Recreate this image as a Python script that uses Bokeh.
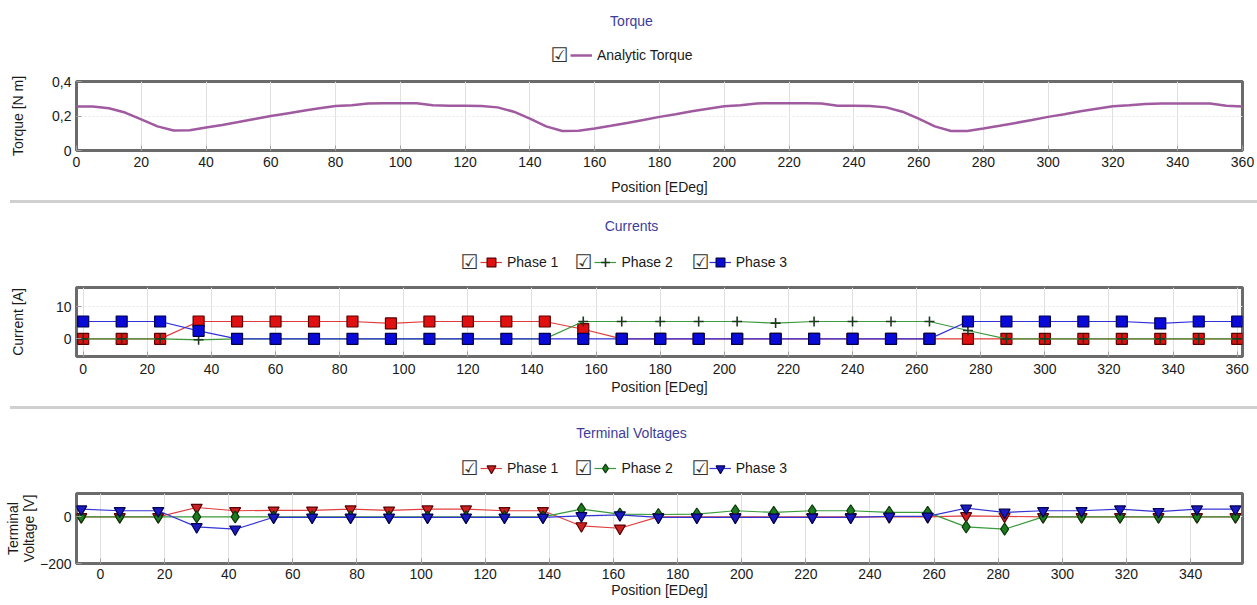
from bokeh.plotting import figure
from bokeh.models import (Range1d, FixedTicker, CustomJSTickFormatter, Legend,
                          LegendItem, Div, Label)
from bokeh.layouts import column
from bokeh.core.properties import value
from bokeh.embed import file_html
from bokeh.resources import INLINE

FONT = "Liberation Sans"
TITLE_COLOR = "#3c3c9c"
TEXT_COLOR = "#1a1a1a"

# ---------------- data ----------------
torque_pos = [0, 5, 10, 15, 20, 25, 30, 35, 40, 45, 50, 55, 60, 65, 70, 75, 80, 85,
              90, 95, 100, 105, 110, 115, 120, 125, 130, 135, 140, 145, 150, 155,
              160, 165, 170, 175, 180, 185, 190, 195, 200, 205, 210, 215, 220, 225,
              230, 235, 240, 245, 250, 255, 260, 265, 270, 275, 280, 285, 290, 295,
              300, 305, 310, 315, 320, 325, 330, 335, 340, 345, 350, 355, 360]
torque_val = [0.255, 0.255, 0.245, 0.22, 0.18, 0.14, 0.116, 0.118, 0.133, 0.148,
              0.165, 0.183, 0.2, 0.215, 0.23, 0.245, 0.258, 0.262, 0.273, 0.274,
              0.274, 0.274, 0.262, 0.26, 0.259, 0.258, 0.25, 0.225, 0.185, 0.14,
              0.113, 0.114, 0.128, 0.143, 0.16, 0.177, 0.195, 0.21, 0.227, 0.242,
              0.256, 0.262, 0.273, 0.274, 0.274, 0.274, 0.273, 0.26, 0.259, 0.258,
              0.25, 0.225, 0.185, 0.14, 0.113, 0.113, 0.127, 0.143, 0.16, 0.177,
              0.195, 0.21, 0.227, 0.242, 0.256, 0.262, 0.27, 0.272, 0.272, 0.272,
              0.272, 0.259, 0.255]

cur_pos = [0, 12, 24, 36, 48, 60, 72, 84, 96, 108, 120, 132, 144, 156, 168, 180,
           192, 204, 216, 228, 240, 252, 264, 276, 288, 300, 312, 324, 336, 348, 360]
cur_phase1 = [0, 0, 0, 5.4, 5.4, 5.4, 5.4, 5.4, 4.8, 5.4, 5.4, 5.4, 5.4, 3.0, 0, 0,
              0, 0, 0, 0, 0, 0, 0, 0, 0, 0, 0, 0, 0, 0, 0]
cur_phase2 = [0, 0, 0, -0.3, 0, 0, 0, 0, 0, 0, 0, 0, 0, 5.4, 5.4, 5.4,
              5.4, 5.4, 4.9, 5.4, 5.4, 5.4, 5.4, 2.6, 0, 0, 0, 0, 0, 0, 0]
cur_phase3 = [5.4, 5.4, 5.4, 2.5, 0, 0, 0, 0, 0, 0, 0, 0, 0, 0, 0, 0,
              0, 0, 0, 0, 0, 0, 0, 5.4, 5.4, 5.4, 5.4, 5.4, 4.8, 5.4, 5.4]

volt_pos = [-6, 6, 18, 30, 42, 54, 66, 78, 90, 102, 114, 126, 138, 150, 162, 174,
            186, 198, 210, 222, 234, 246, 258, 270, 282, 294, 306, 318, 330, 342, 354]
volt_phase1 = [0, 0, 0, 40, 26, 28, 28, 33, 28, 33, 33, 26, 26, -39, -49, 0,
               0, 0, 0, 0, 0, 0, 0, 4, 2, 0, 0, 0, 0, 0, 0]
volt_phase2 = [0, 0, 0, 0, 0, 0, 0, 0, 0, 0, 0, 0, 0, 33, 12, 10,
               12, 26, 19, 26, 26, 19, 19, -43, -53, 0, 0, 0, 0, 0, 0]
volt_phase3 = [33, 26, 26, -43, -53, -2, -2, -2, -2, -2, -2, -2, -2, 4, 8, -2,
               -2, -2, -2, -2, -2, 2, 2, 37, 19, 26, 26, 33, 22, 33, 33]

x_ticks_full = [0, 20, 40, 60, 80, 100, 120, 140, 160, 180, 200, 220, 240, 260,
                280, 300, 320, 340, 360]
x_ticks_volt = [0, 20, 40, 60, 80, 100, 120, 140, 160, 180, 200, 220, 240, 260,
                280, 300, 320, 340]
torque_ticks = [0, 0.2, 0.4]
current_ticks = [0, 10]
voltage_ticks = [-200, 0]

# ---------------- layout constants ----------------
FIG_W = 1257
FRAME_L = 76
FRAME_R = 1242

STYLE = {
    "T": dict(line="#a05aa0"),
    "I1": dict(line="#e03a3a", fill="#e01010", edge="#5a0000", marker="square", size=11),
    "I2": dict(line="#3c9a3c", fill=None, edge="#1e3a1e", marker="cross", size=10),
    "I3": dict(line="#3030d8", fill="#0a0ad8", edge="#00004a", marker="square", size=11),
    "V1": dict(line="#e04040", fill="#cc2020", edge="#5a0000", marker="inverted_triangle", size=11),
    "V2": dict(line="#3a9a3a", fill="#1e7a1e", edge="#0a3a0a", marker="diamond", size=12),
    "V3": dict(line="#3434d4", fill="#1a1ac0", edge="#000050", marker="inverted_triangle", size=11),
}


def series(p, xs, ys, key, **kw):
    st = STYLE[key]
    ln = p.line(xs, ys, line_color=st["line"], line_width=1.2, **kw)
    if st["fill"] is None:
        mk = p.scatter(xs, ys, marker=st["marker"], size=st["size"],
                       line_color=st["edge"], line_width=1.6, **kw)
    else:
        mk = p.scatter(xs, ys, marker=st["marker"], size=st["size"],
                       fill_color=st["fill"], line_color=st["edge"], line_width=1.2, **kw)
    return [ln, mk]


def make_panel(height, top, bottom, xr, yr, xticks, yticks, ylabel,
               y_title_standoff, xlab_standoff, xtitle_standoff):
    p = figure(width=FIG_W, height=height, x_range=Range1d(*xr), y_range=Range1d(*yr),
               output_backend="svg", toolbar_location=None,
               min_border_left=FRAME_L, min_border_right=FIG_W - FRAME_R,
               min_border_top=top, min_border_bottom=bottom)
    p.outline_line_color = "#6b6b6b"
    p.outline_line_width = 3
    p.background_fill_color = "white"
    p.border_fill_color = "white"
    for ax in (p.xaxis[0], p.yaxis[0]):
        ax.axis_line_color = None
        ax.major_tick_in = 5
        ax.major_tick_out = 0
        ax.major_tick_line_color = "#a0a0a0"
        ax.minor_tick_line_color = None
        ax.major_label_text_font = FONT
        ax.major_label_text_font_size = "14px"
        ax.major_label_text_color = TEXT_COLOR
        ax.axis_label_text_font = FONT
        ax.axis_label_text_font_size = "14px"
        ax.axis_label_text_font_style = "normal"
        ax.axis_label_text_color = TEXT_COLOR
    p.xaxis.ticker = FixedTicker(ticks=xticks)
    p.yaxis.ticker = FixedTicker(ticks=yticks)
    p.xaxis.axis_label = "Position [EDeg]"
    p.xaxis.major_label_standoff = xlab_standoff
    p.xaxis.axis_label_standoff = xtitle_standoff
    p.yaxis.axis_label = ylabel
    p.yaxis.major_label_standoff = 5
    p.yaxis.axis_label_standoff = y_title_standoff
    p.xgrid.grid_line_color = "#e0e0e0"
    p.ygrid.grid_line_color = "#e8e8e8"
    p.ygrid.grid_line_dash = "2 2"
    return p


def make_header(height, title, title_y, legend_y, legend_left, checkbox_xs, entries):
    """Title + horizontal legend strip.  The strip's frame lines up with the plot
    frames below (x = page pixels, y = pixels from the strip's bottom)."""
    h = figure(width=FIG_W, height=height, x_range=Range1d(FRAME_L, FRAME_R),
               y_range=Range1d(0, height), output_backend="svg",
               toolbar_location=None, min_border=0,
               x_axis_location=None, y_axis_location=None)
    h.outline_line_color = None
    h.background_fill_color = "white"
    h.border_fill_color = "white"
    h.xgrid.visible = False
    h.ygrid.visible = False
    # legend proxies: the real series, mapped onto ranges that lie outside the strip
    h.extra_x_ranges = {"off": Range1d(5000, 6000)}
    h.extra_y_ranges = {"off": Range1d(5000, 6000)}
    h.add_layout(Label(x=631, y=title_y, text=title, text_font=FONT,
                       text_font_size="14px", text_color=TITLE_COLOR,
                       text_align="center", text_baseline="middle"))
    items = []
    for xs, ys, key, label in entries:
        if key == "T":
            rs = [h.line(xs, ys, line_color=STYLE["T"]["line"], line_width=2.5,
                         x_range_name="off", y_range_name="off")]
        else:
            rs = series(h, xs, ys, key, x_range_name="off", y_range_name="off")
        items.append(LegendItem(label=value(label), renderers=rs))
    glyph_h = 24
    leg = Legend(items=items, orientation="horizontal",
                 location=(legend_left - FRAME_L, legend_y - glyph_h / 2),
                 label_text_font=FONT, label_text_font_size="14px",
                 label_text_color=TEXT_COLOR, glyph_width=22, glyph_height=glyph_h,
                 label_standoff=5, spacing=36, padding=0, margin=0,
                 label_height=16, border_line_color=None, background_fill_alpha=0)
    h.add_layout(leg)
    for cx in checkbox_xs:
        h.add_layout(Label(x=cx, y=legend_y + 1, text="\u2611", text_font="DejaVu Sans",
                           text_font_size="20px", text_color="#303030",
                           text_align="center", text_baseline="middle"))
    return h


# ---------------- Torque ----------------
h1 = make_header(74, "Torque", 54, 19, 570, [559],
                 [(torque_pos, torque_val, "T", "Analytic Torque")])
p1 = make_panel(126, 7, 50, (0, 360), (0, 0.4), x_ticks_full, torque_ticks,
                "Torque [N m]", 23, 6, 9)
p1.yaxis.formatter = CustomJSTickFormatter(
    code="return tick == 0 ? '0' : tick.toFixed(1).replace('.', ',')")
p1.line(torque_pos, torque_val, line_color=STYLE["T"]["line"], line_width=2.5)

# ---------------- Currents ----------------
h2 = make_header(77, "Currents", 55, 18, 480, [469, 583, 700],
                 [(cur_pos, cur_phase1, "I1", "Phase 1"),
                  (cur_pos, cur_phase2, "I2", "Phase 2"),
                  (cur_pos, cur_phase3, "I3", "Phase 3")])
p2 = make_panel(126, 7, 50, (-2.09, 361.65), (-5.5, 16), x_ticks_full,
                current_ticks, "Current [A]", 27, 7, 2)
series(p2, cur_pos, cur_phase1, "I1")
series(p2, cur_pos, cur_phase2, "I2")
series(p2, cur_pos, cur_phase3, "I3")

# ---------------- Terminal Voltages ----------------
h3 = make_header(77, "Terminal Voltages", 54, 18, 480, [469, 583, 700],
                 [(volt_pos, volt_phase1, "V1", "Phase 1"),
                  (volt_pos, volt_phase2, "V2", "Phase 2"),
                  (volt_pos, volt_phase3, "V3", "Phase 3")])
p3 = make_panel(119, 7, 42, (-7.49, 356.2), (-200, 100),
                x_ticks_volt, voltage_ticks, "Terminal\nVoltage [V]", 0, 5, 0)
p3.yaxis.axis_label_text_line_height = 1.0
series(p3, volt_pos, volt_phase1, "V1")
series(p3, volt_pos, volt_phase2, "V2")
series(p3, volt_pos, volt_phase3, "V3")


def separator():
    return Div(text="", width=FIG_W - 10, height=3, margin=(0, 0, 0, 10),
               styles={"background-color": "#d0d0d0"})


layout = column(h1, p1, separator(), h2, p2, separator(), h3, p3, spacing=0)
open("out.html", "w").write(file_html(layout, INLINE))
